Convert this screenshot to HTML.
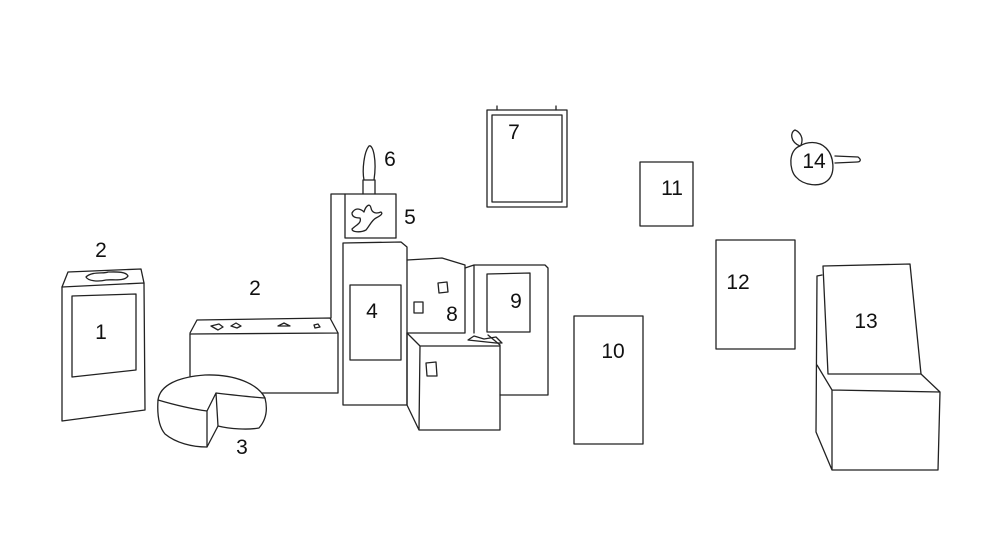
<!DOCTYPE html>
<html><head><meta charset="utf-8"><style>
html,body{margin:0;padding:0;background:#fff;}
svg{display:block}
text{font-family:"Liberation Sans",sans-serif;font-size:21px;fill:#111;text-anchor:middle}
</style></head><body>
<svg width="1000" height="557" viewBox="0 0 1000 557" xmlns="http://www.w3.org/2000/svg">
<rect width="1000" height="557" fill="#fff"/>
<g fill="none" stroke="#222" stroke-width="1.3" stroke-linejoin="round" stroke-linecap="round">
<!-- 1 -->
<path d="M62,287 L144,283 L145,410 L62,421 Z"/>
<path d="M62,287 L68,272 L141,269 L144,283"/>
<path d="M72,296 L136,294 L136,370 L72,377 Z"/>
<path d="M86,277 C92,271 104,274 108,272 C114,272 126,271 128,276 C124,282 112,279 106,280 C98,282 88,281 86,277 Z"/>
<!-- 2 long box -->
<path d="M190,333 L197,320 L330,318 L338,333 L190,334"/>
<path d="M190,334 L190,376 M338,333 L338,393 L262,393"/>
<path d="M211,326 l8,-2 l4,3 l-5,3 z M231,326 l5,-3 l5,3 l-4,2 z M278,326 l6,-3 l6,3 z M314,325 l4,-1 l2,3 l-5,1 z"/>
<!-- cheese 3 -->
<path d="M158,400 C160,385 178,377 205,375 C235,374 258,384 265,398 C268,410 266,420 259,428 C248,430 230,429 218,426 L207,447 C192,447 176,443 165,434 C159,427 157,415 158,400 Z"/>
<path d="M158,400 C175,405 192,409 207,411 L207,447 M207,411 L216,393 C233,395 250,397 265,398 M216,393 L218,426"/>
<!-- back tall panel -->
<path d="M331,318 L331,194 L396,194 L396,238"/>
<!-- 5 -->
<path d="M345,194 L345,238 L396,238"/>
<path d="M352,213 C356,206 362,210 364,212 C366,205 370,203 371,208 C372,213 376,214 381,212 C384,214 378,217 376,218 C372,220 370,225 366,230 C360,233 352,232 352,229 C356,225 362,223 360,218 C356,218 352,217 352,213 Z"/>
<!-- 6 -->
<path d="M363,194 L363,180 L375,180 L375,194 M364,180 C362,170 364,152 369,146 C373,144 377,160 374,180"/>
<!-- 4 -->
<path d="M343,243 L343,405 L407,405 L407,247 L401,242 L343,243"/>
<path d="M350,285 L401,285 L401,360 L350,360 Z"/>
<!-- 8 -->
<path d="M407,260 L442,258 L465,265 L465,333 M407,333 L465,333"/>
<path d="M438,283 l9,-1 l1,10 l-9,1 z M414,302 l9,0 l0,11 l-9,0 z"/>
<!-- 9 -->
<path d="M465,268 L474,265 L545,265 L548,268 L548,395 L500,395 M474,265 L474,333"/>
<path d="M487,274 L530,273 L530,332 L487,332 Z"/>
<!-- front cube -->
<path d="M407,333 L407,405 L419,430 L500,430 L500,345 L488,335 M407,333 L420,346 L500,346 M420,346 L419,430"/>
<path d="M426,363 l10,-1 l1,14 l-10,0 z"/>
<path d="M468,340 l6,-4 l10,3 l12,-2 l6,6 l-6,0 z"/>
<!-- 7 -->
<path d="M487,110 L567,110 L567,207 L487,207 Z"/>
<path d="M492,115 L562,115 L562,202 L492,202 Z"/>
<path d="M497,106 L497,110 M556,106 L556,110"/>
<!-- 11 -->
<path d="M640,162 L693,162 L693,226 L640,226 Z"/>
<!-- 10 -->
<path d="M574,316 L643,316 L643,444 L574,444 Z"/>
<!-- 12 -->
<path d="M716,240 L795,240 L795,349 L716,349 Z"/>
<!-- 13 -->
<path d="M823,266 L910,264 L921,374 L828,374 Z"/>
<path d="M817,276 L822,275 M817,276 L816,432 L832,470 L938,470 L940,392 L921,374 M817,365 L832,390 L940,392 M832,390 L832,470"/>
<!-- 14 -->
<path d="M800,146 C788,150 789,170 796,177 C804,186 820,187 827,181 C836,174 834,156 826,148 C818,140 806,142 800,146 Z"/>
<path d="M800,146 C790,142 790,132 795,130 C800,132 804,138 801,145"/>
<path d="M835,156 L858,157 C862,160 860,162 857,162 L835,163"/>
</g>
<text x="101" y="257">2</text>
<text x="101" y="339">1</text>
<text x="255" y="295">2</text>
<text x="242" y="454">3</text>
<text x="372" y="318">4</text>
<text x="410" y="224">5</text>
<text x="390" y="166">6</text>
<text x="514" y="139">7</text>
<text x="452" y="321">8</text>
<text x="516" y="308">9</text>
<text x="613" y="358">10</text>
<text x="672" y="195">11</text>
<text x="738" y="289">12</text>
<text x="866" y="328">13</text>
<text x="814" y="168">14</text>
</svg>
</body></html>
